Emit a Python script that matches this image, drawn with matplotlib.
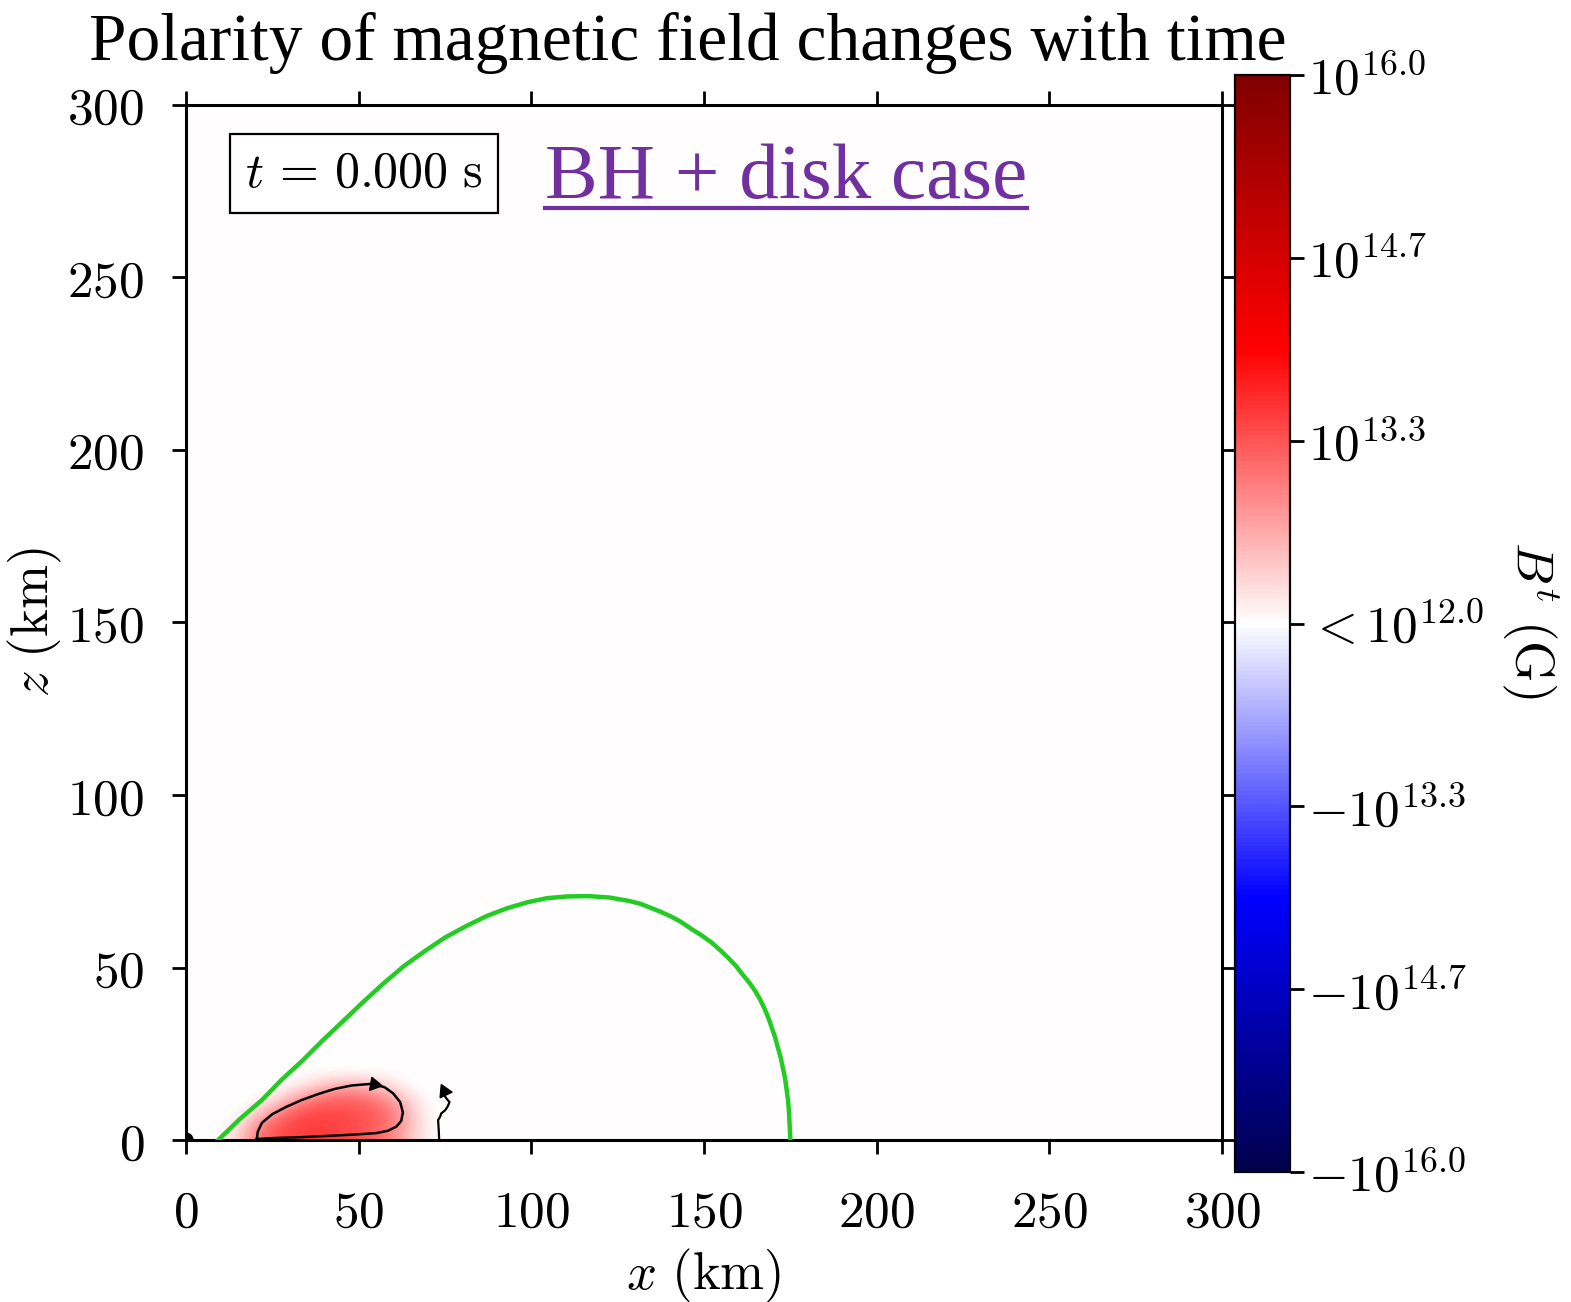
import numpy as np
import matplotlib
matplotlib.use("Agg")
import matplotlib.pyplot as plt
from matplotlib.colors import Normalize
from matplotlib.cm import ScalarMappable
from matplotlib.ticker import FuncFormatter

plt.rcParams["mathtext.fontset"] = "cm"
plt.rcParams["font.family"] = ["DejaVu Serif"]

# ---------- Data ----------
x_ticks = [0, 50, 100, 150, 200, 250, 300]
z_ticks = [0, 50, 100, 150, 200, 250, 300]

# green contour (km)
green_x = [9.3, 15.5, 22.0, 27.5, 33.6, 39.5, 45.5, 51.5, 57.3, 63.2, 69.2, 75.0, 81.1, 87.0,
           93.0, 98.8, 104.5, 110.5, 116.4, 122.5, 128.3, 131.5, 134.3, 137.3, 140.2, 143.2,
           146.0, 149.0, 152.0, 154.6, 157.0, 159.3, 161.3, 163.2, 164.8, 166.2, 167.4,
           168.6, 169.6, 170.6, 171.4, 172.2, 172.8, 173.4, 173.8, 174.3, 174.6, 175.0]
green_z = [0.0, 6.0, 11.6, 17.3, 22.9, 28.8, 34.5, 40.2, 45.5, 50.5, 54.8, 58.7, 62.0, 64.9,
           67.2, 68.9, 70.1, 70.6, 70.7, 70.3, 69.3, 68.5, 67.4, 66.2, 64.9, 63.3,
           61.4, 59.5, 57.4, 55.1, 52.8, 50.4, 47.8, 45.5, 43.2, 40.8, 38.3,
           35.5, 32.6, 29.7, 26.7, 23.9, 21.0, 18.2, 15.4, 11.7, 8.0, 0.0]

# black field-line loop around the blob (km)
loop_x = [20.5, 20.8, 22.0, 25.0, 29.0, 33.5, 38.5, 43.0, 47.9, 53.8, 57.5, 60.0, 62.0,
          62.8, 62.3, 60.9, 58.5, 55.0, 49.0, 43.2, 37.0, 32.6, 26.0, 20.5]
loop_z = [0.3, 2.5, 5.0, 7.5, 9.6, 11.6, 13.4, 14.8, 15.8, 16.3, 15.3, 13.5, 11.0,
          8.0, 5.5, 3.9, 2.7, 2.0, 1.6, 1.3, 1.0, 0.8, 0.6, 0.3]

# small wiggly field line
wig_x = [73.3, 73.2, 73.0, 73.6, 73.9, 75.0, 75.7, 76.3, 75.6, 75.1, 74.6]
wig_z = [0.0, 2.5, 5.8, 6.8, 7.7, 8.6, 9.6, 11.0, 11.8, 12.5, 13.6]

# arrow heads: position (km) and marker rotation (deg)
arrow_x = [54.5, 74.6]
arrow_z = [16.3, 14.2]
arrow_rot = [-100, 25]

# black hole marker
bh_x, bh_z = 0.0, 0.0

# toroidal field B^t on a coarse grid, colourbar units (1 unit = 4/3 dex above 1e12 G)
blob_x = [10, 15, 20, 25, 30, 35, 40, 45, 50, 55, 60, 65, 70, 75]
blob_z = [0, 4, 8, 12, 16, 20]
blob_c = np.array([
    [0.00, 0.30, 0.72, 1.00, 1.10, 1.14, 1.14, 1.10, 1.02, 0.90, 0.68, 0.34, 0.06, 0.00],
    [0.00, 0.15, 0.62, 0.98, 1.08, 1.14, 1.14, 1.10, 1.04, 0.95, 0.76, 0.38, 0.06, 0.00],
    [0.00, 0.00, 0.22, 0.58, 0.92, 1.04, 1.08, 1.07, 1.02, 0.94, 0.76, 0.38, 0.05, 0.00],
    [0.00, 0.00, 0.00, 0.14, 0.42, 0.70, 0.85, 0.90, 0.88, 0.76, 0.54, 0.22, 0.00, 0.00],
    [0.00, 0.00, 0.00, 0.00, 0.03, 0.14, 0.34, 0.44, 0.44, 0.32, 0.15, 0.00, 0.00, 0.00],
    [0.00, 0.00, 0.00, 0.00, 0.00, 0.00, 0.00, 0.00, 0.00, 0.00, 0.00, 0.00, 0.00, 0.00],
])

cbar_ticks = [-3, -2, -1, 0, 1, 2, 3]
cbar_labels = [r"$-10^{16.0}$", r"$-10^{14.7}$", r"$-10^{13.3}$", r"$<10^{12.0}$",
               r"$10^{13.3}$", r"$10^{14.7}$", r"$10^{16.0}$"]

# ---------- Figure ----------
fig = plt.figure(figsize=(15.71, 13.02), dpi=100)
ax = fig.add_axes([0.1184, 0.1244, 0.6595, 0.795])
cax = fig.add_axes([0.7862, 0.0998, 0.0350, 0.8426])

cmap = plt.get_cmap("seismic")
norm = Normalize(vmin=-3, vmax=3)
ax.set_facecolor(cmap(norm(0.02)))

dx = blob_x[1] - blob_x[0]
dz = blob_z[1] - blob_z[0]
ax.imshow(blob_c, cmap=cmap, norm=norm, origin="lower", interpolation="bicubic",
          extent=[blob_x[0] - dx / 2, blob_x[-1] + dx / 2, blob_z[0] - dz / 2, blob_z[-1] + dz / 2],
          aspect="auto", zorder=1)

ax.plot(green_x, green_z, color="#22cc22", lw=3.2, zorder=3, solid_joinstyle="round")
ax.plot(loop_x, loop_z, color="black", lw=1.8, zorder=4, solid_joinstyle="round")
ax.plot(wig_x, wig_z, color="black", lw=1.6, zorder=4)
for xa, za, ra in zip(arrow_x, arrow_z, arrow_rot):
    ax.plot(xa, za, marker=(3, 0, ra), color="black", ms=11, zorder=5)
ax.add_patch(plt.Circle((bh_x, bh_z), 2.0, color="black", zorder=5))

ax.set_xlim(0, 300)
ax.set_ylim(0, 300)
ax.set_xticks(x_ticks)
ax.set_yticks(z_ticks)
fmt = FuncFormatter(lambda v, p: f"${v:.0f}$")
ax.xaxis.set_major_formatter(fmt)
ax.yaxis.set_major_formatter(fmt)
ax.tick_params(direction="out", length=10, width=2, labelsize=37,
               top=True, right=True)
ax.tick_params(axis="x", pad=25)
ax.tick_params(axis="y", pad=20)
for s in ax.spines.values():
    s.set_linewidth(2.2)

ax.set_xlabel(r"$x\ (\mathrm{km})$", fontsize=38, labelpad=6)
ax.set_ylabel(r"$z\ (\mathrm{km})$", fontsize=38)
ax.yaxis.set_label_coords(-0.118, 0.50)

ax.text(0.172, 0.934, r"$t\, =\, 0.000\ \mathrm{s}$", transform=ax.transAxes,
        fontsize=36, ha="center", va="center", zorder=6,
        bbox=dict(boxstyle="square,pad=0.3", fc="white", ec="black", lw=1.6))

# ---------- Colourbar ----------
sm = ScalarMappable(norm=norm, cmap=cmap)
cb = fig.colorbar(sm, cax=cax, ticks=cbar_ticks)
cb.ax.set_yticklabels(cbar_labels)
cb.ax.tick_params(direction="out", length=10, width=2, labelsize=37, pad=3)
cb.outline.set_linewidth(1.6)
fig.text(0.974, 0.524, r"$B^{t}\ (\mathrm{G})$", fontsize=38, rotation=-90,
         ha="center", va="center")

# ---------- Title and case label ----------
fig.text(0.438, 0.954, "Polarity of magnetic field changes with time",
         fontsize=48.5, family="Liberation Serif", ha="center", va="baseline")

case = fig.text(545 / 1571, 1 - 198 / 1302, "BH + disk case", fontsize=57,
                family="Liberation Serif", color="#7030A0", ha="left", va="baseline")
fig.canvas.draw()
bb = case.get_window_extent().transformed(fig.transFigure.inverted())
uy = 1 - 208 / 1302
fig.add_artist(plt.Line2D([bb.x0, bb.x1], [uy, uy], color="#7030A0", lw=3,
                          transform=fig.transFigure))

fig.savefig("out.png", dpi=100)
